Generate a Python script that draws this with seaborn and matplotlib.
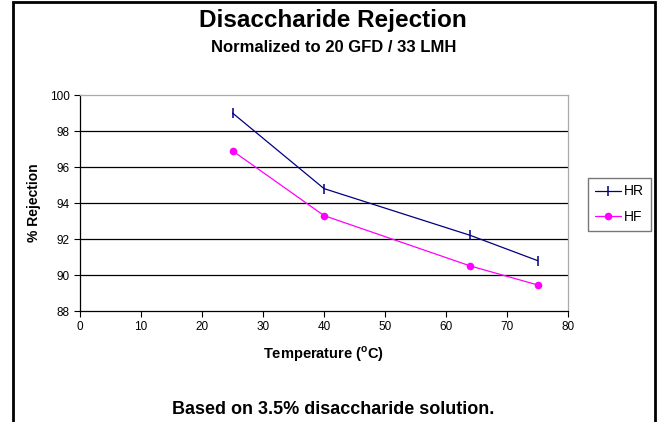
import pandas as pd
import numpy as np
import matplotlib.pyplot as plt
import seaborn as sns
from matplotlib.patches import Rectangle

# Data
temperature = [25, 40, 64, 75]
hr_rejection = [99.0, 94.8, 92.2, 90.8]
hf_rejection = [96.9, 93.3, 90.5, 89.45]
series_names = ['HR', 'HF']

hr_df = pd.DataFrame({'Temperature': temperature, 'Rejection': hr_rejection})
hf_df = pd.DataFrame({'Temperature': temperature, 'Rejection': hf_rejection})

sns.set_style('white')
plt.rcParams['font.family'] = ['Liberation Sans', 'DejaVu Sans']
plt.rcParams['text.color'] = 'black'
plt.rcParams['axes.labelcolor'] = 'black'

fig = plt.figure(figsize=(6.6, 4.22), dpi=100)
ax = fig.add_axes([80 / 660, 1 - 311 / 422, 488 / 660, 216 / 422])

sns.lineplot(data=hr_df, x='Temperature', y='Rejection', color='#000080', marker='|',
             markersize=7, markeredgewidth=1.1, markeredgecolor='#000080',
             linewidth=0.9, ax=ax, label='HR')
sns.lineplot(data=hf_df, x='Temperature', y='Rejection', color='#FF00FF', marker='o',
             markersize=5.5, markeredgewidth=0, linewidth=0.9, ax=ax, label='HF')
ax.get_legend().remove()

ax.set_xlim(0, 80)
ax.set_ylim(88, 100)
ax.set_xticks(range(0, 81, 10))
ax.set_yticks(range(88, 101, 2))
ax.tick_params(axis='both', labelsize=8.5, direction='out', length=4, width=0.8,
               bottom=True, left=True, colors='black')
for y in range(90, 100, 2):
    ax.axhline(y, color='black', linewidth=0.9, zorder=0)

ax.spines['left'].set_color('black')
ax.spines['bottom'].set_color('black')
ax.spines['top'].set_color('#aaaaaa')
ax.spines['right'].set_color('#aaaaaa')
for s in ax.spines.values():
    s.set_linewidth(0.9)

ax.set_xlabel('Temperature ($^{\\mathregular{o}}$C)', fontsize=10.5, fontweight='bold', labelpad=8)
ax.set_ylabel('% Rejection', fontsize=10, fontweight='bold', labelpad=6)

fig.text(0.505, 1 - 21 / 422, 'Disaccharide Rejection', ha='center', va='center',
         fontsize=17.5, fontweight='bold')
fig.text(0.505, 1 - 47 / 422, 'Normalized to 20 GFD / 33 LMH', ha='center', va='center',
         fontsize=12, fontweight='bold')
fig.text(0.505, 1 - 409 / 422, 'Based on 3.5% disaccharide solution.', ha='center', va='center',
         fontsize=13, fontweight='bold')

# legend
handles = [
    plt.Line2D([], [], color='#000080', marker='|', markersize=7, linewidth=0.9,
               markeredgewidth=1.1),
    plt.Line2D([], [], color='#FF00FF', marker='o', markersize=5.5, linewidth=0.9,
               markeredgewidth=0),
]
fig.legend(handles, series_names, loc='center left',
           bbox_to_anchor=(588 / 660, 1 - 204 / 422), fontsize=10, frameon=True,
           fancybox=False, edgecolor='#555555', handlelength=1.9, borderpad=0.5,
           labelspacing=0.8, handletextpad=0.2, borderaxespad=0)

# outer chart border
fig.patches.append(Rectangle((13 / 660, -0.05), 642 / 660, 1.05 - 2 / 422, transform=fig.transFigure,
                             fill=False, edgecolor='black', linewidth=2))

fig.savefig('out.png', dpi=100, facecolor='white')
